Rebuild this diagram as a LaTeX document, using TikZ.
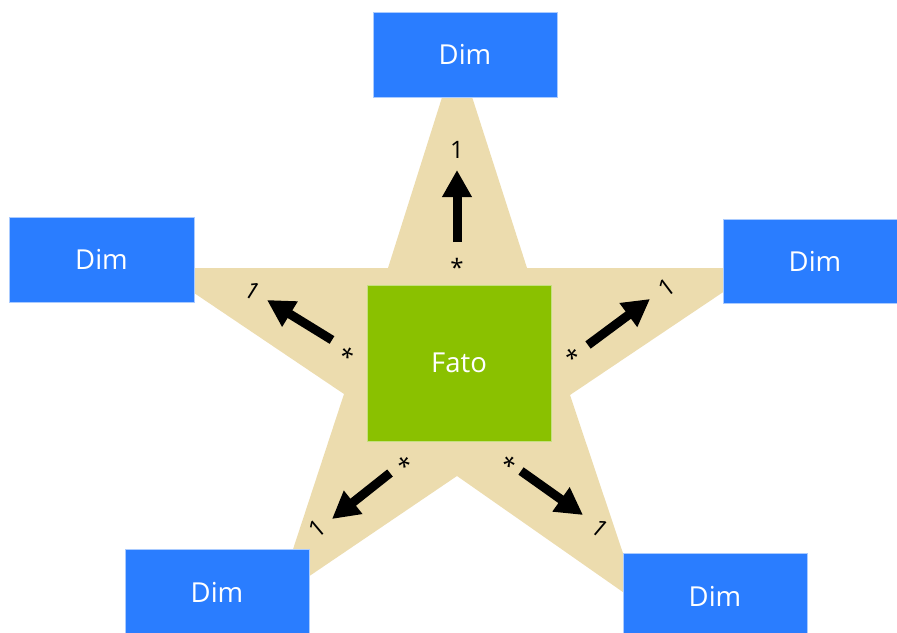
\documentclass[tikz,border=0pt]{standalone}
\usepackage{fontspec}
\setmainfont{Open Sans}
\usetikzlibrary{arrows.meta}
\definecolor{dimblue}{RGB}{42,125,255}
\definecolor{fatogreen}{RGB}{138,193,0}
\definecolor{startan}{RGB}{236,220,174}
\tikzset{
  dimbox/.style={fill=dimblue, draw=dimblue!40!white, line width=0.6pt, text=white, font=\fontsize{27.5}{30}\selectfont},
  lbl/.style={font=\fontsize{24}{26}\selectfont, text=black, inner sep=0pt},
  fk/.style={-{Triangle[length=27pt,width=28pt]}, line width=9pt, black}
}
\begin{document}
\begin{tikzpicture}[x=1pt,y=-1pt]
\useasboundingbox (0,0) rectangle (897,632);
% star
\fill[startan] (457,50) -- (527,268) -- (759,268) -- (570,395) -- (640,604)
  -- (457,476) -- (277,598) -- (344,394) -- (157,268) -- (388,268) -- cycle;
% boxes
\begin{scope}
\clip (0,0) rectangle (897,632);
\node[dimbox, minimum width=184pt, minimum height=85pt] (dtop) at (465,54.5) {Dim};
\node[dimbox, minimum width=185pt, minimum height=85pt] (dleft) at (101.5,259.5) {Dim};
\node[dimbox, minimum width=184pt, minimum height=84pt] (dright) at (815,261) {Dim};
\node[dimbox, minimum width=184pt, minimum height=86pt] (dbl) at (217,592) {Dim};
\node[dimbox, minimum width=184pt, minimum height=86pt] (dbr) at (715,596) {Dim};
\end{scope}
\node[fill=fatogreen, draw=fatogreen!50!white, line width=0.6pt, text=white,
  font=\fontsize{27.5}{30}\selectfont, minimum width=184pt, minimum height=156pt] (fato) at (459,363) {Fato};
% labels
\node[lbl] (otop) at (457,150) {1};
\node[lbl] (stop) at (457,267) {*};
\node[lbl, rotate=-32] (oleft) at (253,291) {1};
\node[lbl, rotate=-32] (sleft) at (346,356) {*};
\node[lbl, rotate=37] (oright) at (667,288) {1};
\node[lbl, rotate=37] (sright) at (574,357) {*};
\node[lbl, rotate=40] (obl) at (317,529) {1};
\node[lbl, rotate=40] (sbl) at (407,465) {*};
\node[lbl, rotate=-40] (obr) at (600,528) {1};
\node[lbl, rotate=-40] (sbr) at (507,465) {*};
% arrow ends
\coordinate (ttop) at (457,242); \coordinate (htop) at (457,170);
\coordinate (tleft) at (332,340); \coordinate (hleft) at (267,300);
\coordinate (tright) at (588,345); \coordinate (hright) at (650,299);
\coordinate (tbl) at (390,473); \coordinate (hbl) at (332,519);
\coordinate (tbr) at (521,471); \coordinate (hbr) at (583,515);
\draw[fk] (ttop) -- (htop);
\draw[fk] (tleft) -- (hleft);
\draw[fk] (tright) -- (hright);
\draw[fk] (tbl) -- (hbl);
\draw[fk] (tbr) -- (hbr);
\end{tikzpicture}
\end{document}
